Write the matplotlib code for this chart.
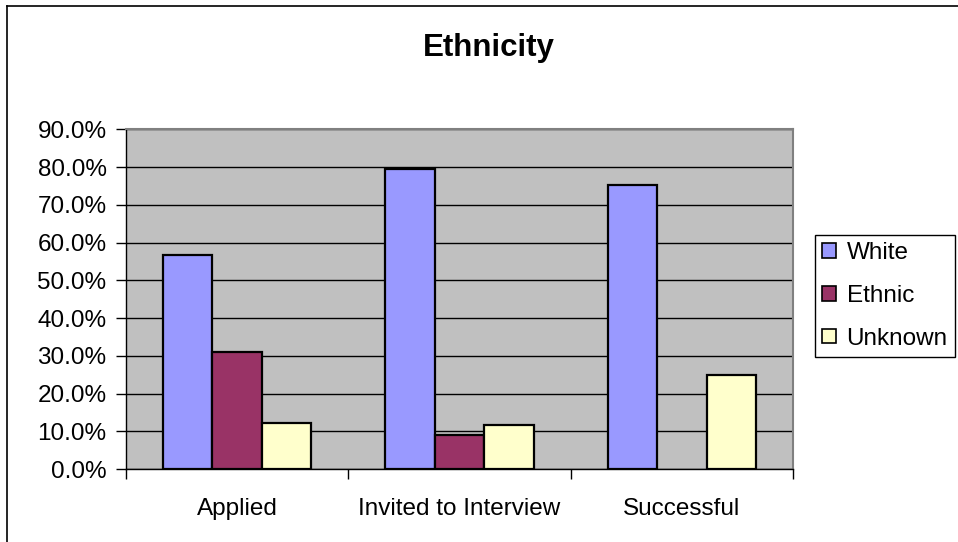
import matplotlib.pyplot as plt
from matplotlib.patches import Patch
from matplotlib.lines import Line2D
import numpy as np

plt.rcParams['font.family'] = ['Liberation Sans', 'DejaVu Sans']

# data (fractions)
categories = ["Applied", "Invited to Interview", "Successful"]
series_names = ["White", "Ethnic", "Unknown"]
white = [0.568, 0.796, 0.754]
ethnic = [0.310, 0.090, 0.0]
unknown = [0.122, 0.116, 0.248]
colors = ["#9999FF", "#993366", "#FFFFCC"]

W, H = 958, 542
fig = plt.figure(figsize=(W / 100, H / 100), dpi=100)
ax = fig.add_axes([126 / W, 73 / H, 667 / W, 339.5 / H])
ax.set_facecolor("#C0C0C0")

x = np.arange(len(categories))
bw = 0.222
for i, (vals, col, name) in enumerate(zip([white, ethnic, unknown], colors, series_names)):
    bars = ax.bar(x + (i - 1) * bw, vals, bw, color=col, edgecolor="black",
                  linewidth=1.6, label=name, zorder=3)
    # excel draws nothing for a zero value
    for b, v in zip(bars, vals):
        if v == 0:
            b.set_visible(False)

ax.set_xlim(-0.5, 2.5)
ax.set_ylim(0, 0.9)
ax.set_yticks(np.arange(0, 0.91, 0.1))
ax.set_yticklabels([f"{v * 100:.1f}%" for v in np.arange(0, 0.91, 0.1)])
ax.yaxis.grid(True, color="black", linewidth=1.0, zorder=1)
ax.set_axisbelow(True)

ax.set_xticks(x)
ax.set_xticklabels(categories)
ax.set_xticks([-0.5, 0.5, 1.5, 2.5], minor=True)
ax.tick_params(axis="x", which="major", length=0, pad=21, labelsize=17.5)
ax.tick_params(axis="x", which="minor", length=7, width=1, color="black")
ax.tick_params(axis="y", length=7, width=1, pad=7, labelsize=17.5)

for side in ["top", "right"]:
    ax.spines[side].set_color("#808080")
    ax.spines[side].set_linewidth(1.5)
for side in ["left", "bottom"]:
    ax.spines[side].set_color("black")
    ax.spines[side].set_linewidth(1.0)

fig.text(489 / W, 1 - 48 / H, "Ethnicity", ha="center", va="center",
         fontsize=22.5, fontweight="bold")

handles = [Patch(facecolor=c, edgecolor="black", linewidth=1.2) for c in colors]
leg = fig.legend(handles, series_names, loc="upper left",
                 bbox_to_anchor=(815 / W, 1 - 235 / H), borderaxespad=0,
                 fontsize=17.5, handlelength=0.55, handleheight=0.55,
                 handletextpad=0.45, labelspacing=0.85, borderpad=0.3,
                 fancybox=False, framealpha=1, edgecolor="black")
leg.get_frame().set_linewidth(1.0)

# chart border (only left and top are visible in the crop)
fig.add_artist(Line2D([7 / W, 7 / W], [0, 1 - 6 / H], transform=fig.transFigure,
                      color="black", linewidth=1.2))
fig.add_artist(Line2D([7 / W, 1], [1 - 6 / H, 1 - 6 / H], transform=fig.transFigure,
                      color="black", linewidth=1.2))

fig.savefig("out.png", dpi=100)
